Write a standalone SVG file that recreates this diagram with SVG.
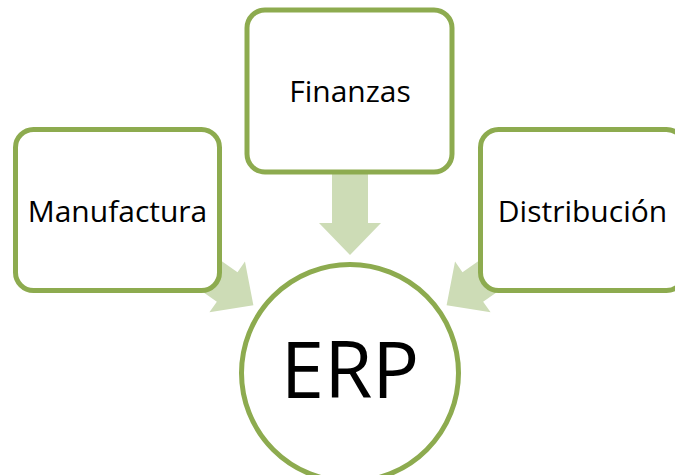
<svg xmlns="http://www.w3.org/2000/svg" width="675" height="475" viewBox="0 0 675 475">
<defs>
<style>
.box{fill:#ffffff;stroke:#8dab4f;stroke-width:5}
.arr{fill:#cddcb6}
.lbl{font-family:"Open Sans","Noto Sans","Liberation Sans",sans-serif;font-size:30px;fill:#000;text-anchor:middle}
.big{font-family:"Open Sans","Noto Sans","Liberation Sans",sans-serif;font-size:78px;fill:#000;text-anchor:middle}
</style>
<path id="arrow" d="M-18,-95 L18,-95 L18,-32 L31,-32 L0,0 L-31,-32 L-18,-32 Z"/>
</defs>
<rect width="675" height="475" fill="#ffffff"/>
<g id="connectors">
<use href="#arrow" class="arr" transform="translate(350,255)"/>
<use href="#arrow" class="arr" transform="translate(253.4,305.3) rotate(-55)"/>
<use href="#arrow" class="arr" transform="translate(446.6,305.3) rotate(55)"/>
</g>
<g id="finanzas">
<rect class="box" x="247" y="10" width="205" height="162" rx="18"/>
<text class="lbl" x="350" y="102">Finanzas</text>
</g>
<g id="manufactura">
<rect class="box" x="15.5" y="129.5" width="204" height="161" rx="18"/>
<text class="lbl" x="117.5" y="222">Manufactura</text>
</g>
<g id="distribucion">
<rect class="box" x="480.5" y="129.5" width="204" height="161" rx="18"/>
<text class="lbl" x="582.5" y="222">Distribución</text>
</g>
<g id="erp">
<circle class="box" cx="350" cy="373" r="108.5"/>
<text class="big" x="350" y="398">ERP</text>
</g>
</svg>
